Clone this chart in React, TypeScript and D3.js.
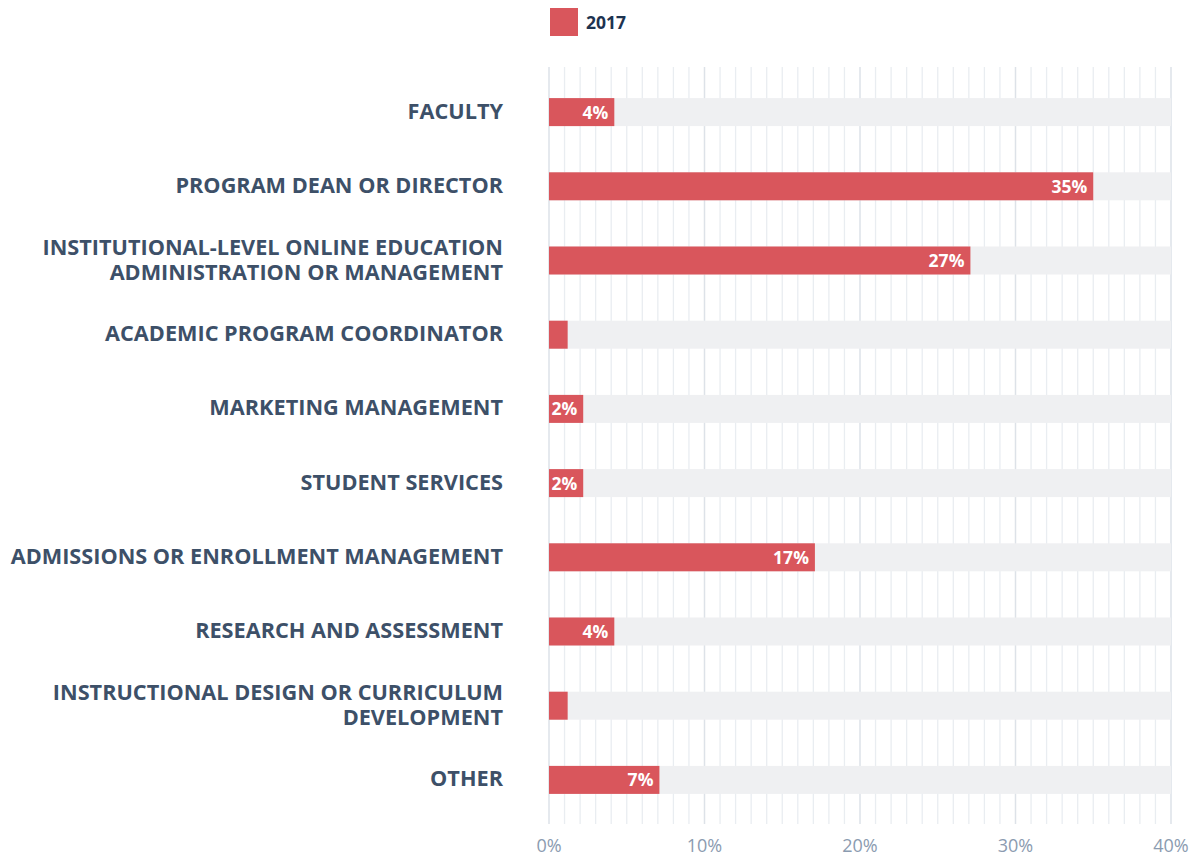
import React from "react";
import * as d3 from "d3";

const categories: string[][] = [
  ["FACULTY"],
  ["PROGRAM DEAN OR DIRECTOR"],
  ["INSTITUTIONAL-LEVEL ONLINE EDUCATION", "ADMINISTRATION OR MANAGEMENT"],
  ["ACADEMIC PROGRAM COORDINATOR"],
  ["MARKETING MANAGEMENT"],
  ["STUDENT SERVICES"],
  ["ADMISSIONS OR ENROLLMENT MANAGEMENT"],
  ["RESEARCH AND ASSESSMENT"],
  ["INSTRUCTIONAL DESIGN OR CURRICULUM", "DEVELOPMENT"],
  ["OTHER"],
];
const values2017: number[] = [4.2, 35.0, 27.1, 1.2, 2.2, 2.2, 17.1, 4.2, 1.2, 7.1];
const showLabel: boolean[] = [true, true, true, false, true, true, true, true, false, true];
const xTicks: number[] = [0, 10, 20, 30, 40];
const seriesName = "2017";

const W = 1199;
const H = 857;
const FONT = "'Open Sans', sans-serif";

export default function App() {
  const x = d3.scaleLinear().domain([0, 40]).range([549, 1171]);
  const y = d3
    .scaleBand<number>()
    .domain(d3.range(categories.length))
    .range([75, 817])
    .paddingInner(0.62)
    .paddingOuter(0.31);
  const bh = 28;
  const minor = d3.range(0, 41, 1);

  return (
    <svg width={W} height={H} style={{ position: "absolute", left: 0, top: 0 }} fontFamily={FONT}>
      {/* legend */}
      <rect x={550} y={8} width={28} height={28} fill="#d9565c" />
      <text x={586} y={29} fontSize={17.5} fontWeight={700} fill="#1d3350">
        {seriesName}
      </text>
      {/* grid */}
      {minor.map((t) => (
        <line
          key={t}
          x1={x(t)}
          x2={x(t)}
          y1={67}
          y2={824}
          stroke={t % 10 === 0 ? "#dde2e8" : "#e9edf1"}
          strokeWidth={t % 10 === 0 ? 1.5 : 1.3}
        />
      ))}
      {categories.map((c, i) => {
        const cy = (y(i) as number) + y.bandwidth() / 2;
        const v = values2017[i];
        return (
          <g key={i}>
            <rect x={x(0)} y={cy - bh / 2} width={x(40) - x(0)} height={bh} fill="#eff0f2" />
            <rect x={x(0)} y={cy - bh / 2} width={x(v) - x(0)} height={bh} fill="#d9565c" />
            {showLabel[i] && (
              <text
                x={x(v) - 6}
                y={cy + 6.5}
                textAnchor="end"
                fontSize={17.5}
                fontWeight={700}
                fill="#ffffff"
              >
                {Math.round(v)}%
              </text>
            )}
            {c.map((line, j) => (
              <text
                key={j}
                x={503}
                y={cy + 6.5 + (j - (c.length - 1) / 2) * 25}
                textAnchor="end"
                fontSize={21.7}
                fontWeight={700}
                fill="#3d5068"
              >
                {line}
              </text>
            ))}
          </g>
        );
      })}
      {xTicks.map((t) => (
        <text key={t} x={x(t)} y={852} textAnchor="middle" fontSize={18} fill="#8b9bb0">
          {t}%
        </text>
      ))}
    </svg>
  );
}
